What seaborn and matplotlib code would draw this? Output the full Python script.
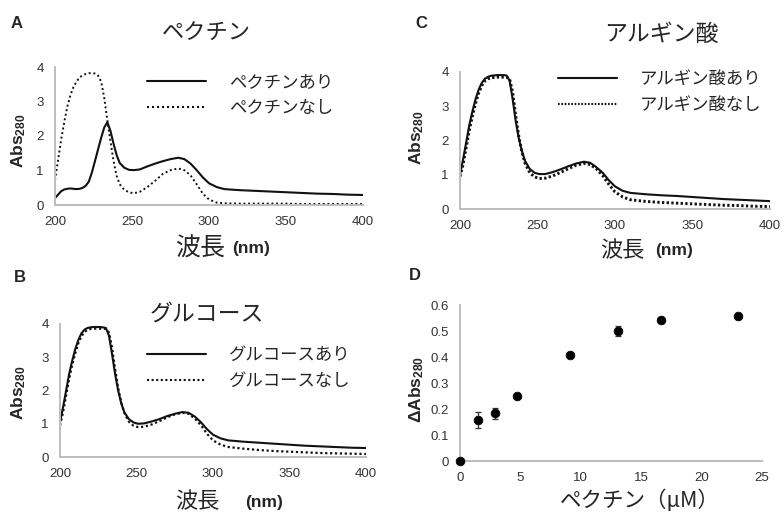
import numpy as np
import pandas as pd
import matplotlib
matplotlib.use("Agg")
import matplotlib.pyplot as plt
import seaborn as sns

# ── data ─────────────────────────────────────────────────────────────
wavelength = [200, 202, 204, 206, 208, 210, 212, 214, 216, 218, 220, 222, 224,
              226, 228, 230, 232, 234, 236, 238, 240, 242, 245, 248, 251, 255,
              260, 265, 270, 275, 280, 284, 288, 292, 296, 300, 305, 310, 320,
              330, 340, 350, 360, 370, 380, 390, 400]

# A: pectin
pectin_with = [0.20, 0.30, 0.40, 0.45, 0.47, 0.48, 0.47, 0.46, 0.47, 0.50, 0.56,
               0.68, 0.95, 1.28, 1.62, 1.95, 2.25, 2.40, 2.15, 1.78, 1.45, 1.22,
               1.08, 1.02, 1.01, 1.03, 1.12, 1.20, 1.27, 1.33, 1.37, 1.33, 1.20,
               1.01, 0.80, 0.63, 0.52, 0.46, 0.43, 0.41, 0.39, 0.37, 0.35, 0.33,
               0.32, 0.30, 0.29]
pectin_without = [0.72, 1.30, 1.90, 2.40, 2.85, 3.18, 3.42, 3.58, 3.70, 3.76, 3.80,
                  3.82, 3.82, 3.81, 3.75, 3.57, 3.10, 2.45, 1.85, 1.28, 0.85, 0.60,
                  0.44, 0.37, 0.34, 0.38, 0.52, 0.70, 0.90, 1.01, 1.06, 1.01, 0.86,
                  0.60, 0.33, 0.16, 0.07, 0.05, 0.04, 0.04, 0.04, 0.04, 0.03, 0.03,
                  0.03, 0.03, 0.03]

# B: glucose
glucose_with = [1.05, 1.50, 2.00, 2.50, 2.90, 3.25, 3.52, 3.72, 3.83, 3.88, 3.90,
                3.91, 3.91, 3.91, 3.90, 3.88, 3.65, 3.10, 2.50, 2.00, 1.62, 1.35,
                1.14, 1.04, 1.00, 1.01, 1.07, 1.14, 1.23, 1.30, 1.35, 1.33, 1.22,
                1.05, 0.84, 0.67, 0.56, 0.50, 0.46, 0.43, 0.40, 0.37, 0.34, 0.32,
                0.30, 0.28, 0.27]
glucose_without = [0.95, 1.35, 1.85, 2.35, 2.78, 3.12, 3.42, 3.63, 3.76, 3.82, 3.85,
                   3.86, 3.86, 3.86, 3.86, 3.85, 3.75, 3.30, 2.65, 2.08, 1.65, 1.33,
                   1.06, 0.94, 0.90, 0.91, 0.98, 1.08, 1.19, 1.28, 1.33, 1.30, 1.16,
                   0.96, 0.70, 0.50, 0.37, 0.30, 0.25, 0.21, 0.18, 0.16, 0.14, 0.12,
                   0.11, 0.10, 0.09]

# C: alginic acid
alginate_with = [1.00, 1.45, 1.95, 2.45, 2.85, 3.20, 3.48, 3.68, 3.80, 3.86, 3.89,
                 3.90, 3.91, 3.91, 3.91, 3.90, 3.75, 3.20, 2.55, 2.05, 1.68, 1.40,
                 1.17, 1.06, 1.02, 1.02, 1.08, 1.16, 1.25, 1.33, 1.38, 1.35, 1.22,
                 1.06, 0.84, 0.66, 0.53, 0.47, 0.43, 0.40, 0.38, 0.35, 0.32, 0.29,
                 0.27, 0.25, 0.23]
alginate_without = [0.95, 1.30, 1.80, 2.30, 2.72, 3.08, 3.38, 3.60, 3.74, 3.80, 3.83,
                    3.84, 3.85, 3.85, 3.85, 3.85, 3.80, 3.40, 2.70, 2.10, 1.65, 1.33,
                    1.06, 0.94, 0.89, 0.90, 0.97, 1.07, 1.18, 1.28, 1.33, 1.30, 1.17,
                    0.98, 0.72, 0.50, 0.35, 0.27, 0.22, 0.19, 0.17, 0.15, 0.13, 0.11,
                    0.10, 0.08, 0.07]

# D: delta Abs280 vs pectin concentration
pectin_conc = [0, 1.46, 2.9, 4.75, 9.1, 13.05, 16.65, 23.05]
delta_abs = [0.0, 0.158, 0.184, 0.249, 0.409, 0.500, 0.543, 0.556]
delta_err = [0.0, 0.031, 0.021, 0.008, 0.006, 0.021, 0.008, 0.008]

spec_xticks = [200, 250, 300, 350, 400]
spec_yticks = [0, 1, 2, 3, 4]
d_xticks = [0, 5, 10, 15, 20, 25]
d_yticks = [0, 0.1, 0.2, 0.3, 0.4, 0.5, 0.6]
d_yticklabels = ["0", "0.1", "0.2", "0.3", "0.4", "0.5", "0.6"]

# ── style ────────────────────────────────────────────────────────────
sns.set_style("white")
plt.rcParams["font.family"] = ["Liberation Sans", "Noto Sans CJK JP"]
plt.rcParams["mathtext.fontset"] = "custom"
plt.rcParams["mathtext.rm"] = "Liberation Sans"
plt.rcParams["mathtext.bf"] = "Liberation Sans:bold"
plt.rcParams["mathtext.it"] = "Liberation Sans:italic"

JP = ["Noto Sans CJK JP", "DejaVu Sans"]
SPINE = "#bdbdbd"
TICK = "#333333"

W, H = 784, 515
fig = plt.figure(figsize=(W / 100, H / 100), dpi=100)


def box(left, top, right, bottom):
    return [left / W, 1 - bottom / H, (right - left) / W, (bottom - top) / H]


def ftext(x, y, s, **kw):
    fig.text(x / W, 1 - y / H, s, **kw)


def style_axes(ax):
    sns.despine(ax=ax)
    for side in ("left", "bottom"):
        ax.spines[side].set_color(SPINE)
        ax.spines[side].set_linewidth(1.4)
    ax.tick_params(length=0, pad=8, labelsize=9.5, labelcolor=TICK)
    ax.set_xlabel("")
    ax.set_ylabel("")


def draw_spectrum(ax, name, y_with, y_without, dot_lw, dots, legend_xy):
    lab_with, lab_without = name + "あり", name + "なし"
    df = pd.DataFrame({
        "wavelength": wavelength * 2,
        "abs": y_with + y_without,
        "cond": [lab_with] * len(wavelength) + [lab_without] * len(wavelength),
    })
    sns.lineplot(data=df, x="wavelength", y="abs", style="cond",
                 style_order=[lab_with, lab_without],
                 dashes={lab_with: "", lab_without: dots},
                 color="#111111", linewidth=1.5, ax=ax, legend="brief")
    ax.lines[1].set_linewidth(dot_lw)
    ax.set_xlim(200, 400)
    ax.set_ylim(0, 4)
    ax.set_xticks(spec_xticks)
    ax.set_yticks(spec_yticks)
    style_axes(ax)

    handles, labels = ax.get_legend_handles_labels()
    keep = [(h, l) for h, l in zip(handles, labels) if l in (lab_with, lab_without)]
    ax.legend([h for h, _ in keep], [l for _, l in keep],
              loc="upper left", bbox_to_anchor=(legend_xy[0] / W, 1 - legend_xy[1] / H),
              bbox_transform=fig.transFigure, frameon=False,
              prop={"family": JP, "size": 12.5},
              handlelength=3.4, handletextpad=1.3, labelspacing=0.45,
              borderpad=0, borderaxespad=0)


# ── axes ─────────────────────────────────────────────────────────────
ax_a = fig.add_axes(box(55, 67, 363, 205))
ax_c = fig.add_axes(box(460, 72, 770, 209))
ax_b = fig.add_axes(box(60, 324, 366, 457))
ax_d = fig.add_axes(box(460, 305, 762, 461))

draw_spectrum(ax_a, "ペクチン", pectin_with, pectin_without, 1.4, (1, 1.4), (147, 73))
draw_spectrum(ax_c, "アルギン酸", alginate_with, alginate_without, 2.1, (0.8, 0.8), (558, 70))
draw_spectrum(ax_b, "グルコース", glucose_with, glucose_without, 1.6, (1, 1.2), (147, 346))

# D
df_d = pd.DataFrame({"conc": pectin_conc, "dabs": delta_abs, "err": delta_err})
ax_d.errorbar(df_d["conc"], df_d["dabs"], yerr=df_d["err"], fmt="none",
              ecolor="#333333", elinewidth=0.9, capsize=2.5, capthick=0.9)
sns.scatterplot(data=df_d, x="conc", y="dabs", color="black", s=40,
                edgecolor="black", linewidth=0.5, ax=ax_d, clip_on=False, zorder=5)
ax_d.set_xlim(0, 25)
ax_d.set_ylim(0, 0.6)
ax_d.set_xticks(d_xticks)
ax_d.set_yticks(d_yticks)
ax_d.set_yticklabels(d_yticklabels)
style_axes(ax_d)

# ── texts ────────────────────────────────────────────────────────────
for x, y, s in [(17, 23, "A"), (421, 23, "C"), (20, 277, "B"), (415, 276, "D")]:
    ftext(x, y, s, ha="center", va="center", fontsize=12, fontweight="bold")

ftext(206, 33, "ペクチン", ha="center", va="center", fontsize=16, family=JP)
ftext(661, 34, "アルギン酸", ha="center", va="center", fontsize=16.5, family=JP)
ftext(207, 314, "グルコース", ha="center", va="center", fontsize=16.5, family=JP)

ylab = r"$\mathbf{Abs_{280}}$"
ftext(19, 141, ylab, ha="center", va="center", rotation=90, fontsize=12.5)
ftext(417, 138, ylab, ha="center", va="center", rotation=90, fontsize=12.5)
ftext(19, 393, ylab, ha="center", va="center", rotation=90, fontsize=12.5)
ftext(417, 389, r"$\mathbf{ΔAbs_{280}}$", ha="center", va="center", rotation=90,
      fontsize=12.5)

for x1, x2, y, fs in [(175, 232, 249, 18), (600, 655, 251, 16), (175, 245, 502, 16)]:
    ftext(x1, y, "波長", ha="left", va="center", fontsize=fs, family=JP)
    ftext(x2, y, "(nm)", ha="left", va="center", fontsize=12.5, fontweight="bold")

ftext(560, 501, "ペクチン（μM）", ha="left", va="center", fontsize=15.5, family=JP)

fig.savefig("out.png", dpi=100)
